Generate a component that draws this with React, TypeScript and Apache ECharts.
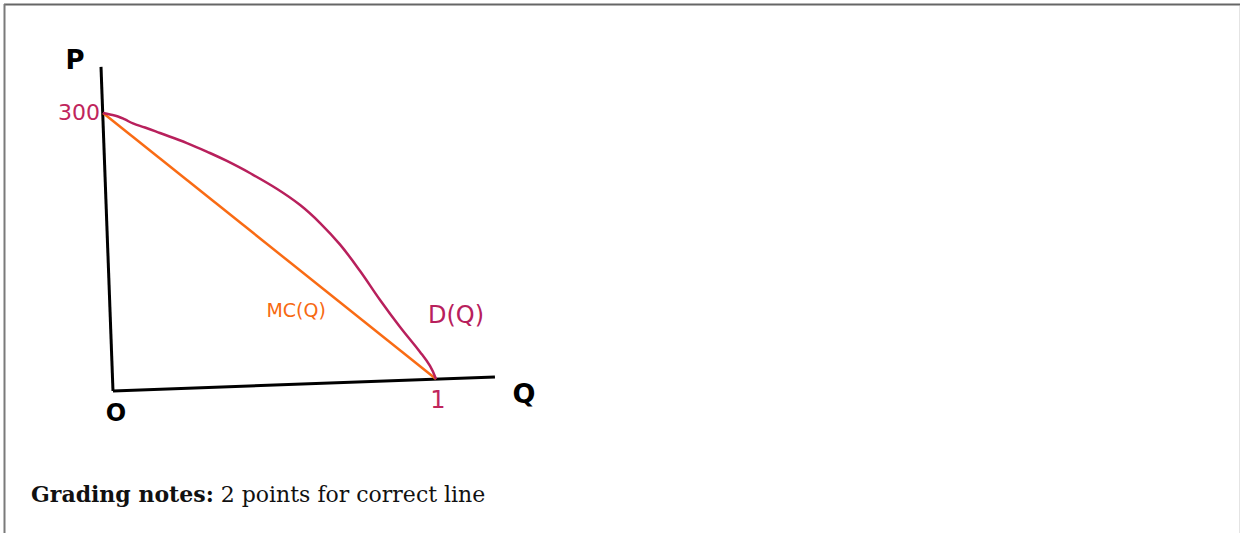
import React, { useEffect, useRef } from "react";
import * as echarts from "echarts";

// Quantity (Q) and price (P) coordinates of the sketched curves
const axisYLine: [number, number][] = [
  [-0.006, 352],
  [0.03, -13.5],
];
const axisXLine: [number, number][] = [
  [0.03, -13.5],
  [1.177, 2.3],
];
const mcLine: [number, number][] = [
  [0, 300],
  [1, 0],
];
const demandQ = [0, 0.021, 0.045, 0.066, 0.09, 0.126, 0.171, 0.252, 0.321, 0.372, 0.441, 0.523, 0.592, 0.652, 0.712, 0.772, 0.832, 0.892, 0.952, 0.982, 1];
const demandP = [300, 298.3, 296.1, 292.7, 288.2, 283.6, 277.4, 266.1, 254.9, 245.9, 232.3, 214.3, 196.2, 175.9, 151.5, 121.8, 89.1, 58.6, 30.5, 14.7, 0];

// Hand-lettered annotations placed in (Q, P) space
const annotations: { q: number; p: number; text: string; color: string; size: number; weight: string }[] = [
  { q: -0.084, p: 360, text: "P", color: "#000000", size: 26, weight: "bold" },
  { q: -0.072, p: 301, text: "300", color: "#c0255c", size: 22, weight: "normal" },
  { q: 0.58, p: 78, text: "MC(Q)", color: "#f76a12", size: 19, weight: "normal" },
  { q: 1.06, p: 72, text: "D(Q)", color: "#b8205c", size: 24, weight: "normal" },
  { q: 1.006, p: -24, text: "1", color: "#c0255c", size: 24, weight: "normal" },
  { q: 1.264, p: -16, text: "Q", color: "#000000", size: 27, weight: "bold" },
  { q: 0.039, p: -38, text: "O", color: "#000000", size: 24, weight: "bold" },
];

const noteBold = "Grading notes:";
const noteText = " 2 points for correct line";

export default function App() {
  const ref = useRef<HTMLDivElement>(null);

  useEffect(() => {
    if (!ref.current) return;
    const chart = echarts.init(ref.current, null, { renderer: "svg" });
    chart.setOption({
      animation: false,
      backgroundColor: "#ffffff",
      grid: { left: 19.75, width: 582.75, top: 24.33, height: 443.33 },
      xAxis: { type: "value", min: -0.25, max: 1.5, show: false },
      yAxis: { type: "value", min: -100, max: 400, show: false },
      series: [
        {
          type: "line",
          data: axisYLine,
          symbol: "none",
          clip: false,
          lineStyle: { color: "#000000", width: 3 },
        },
        {
          type: "line",
          data: axisXLine,
          symbol: "none",
          clip: false,
          lineStyle: { color: "#000000", width: 3 },
        },
        {
          type: "line",
          data: mcLine,
          symbol: "none",
          clip: false,
          lineStyle: { color: "#f96b14", width: 2.5 },
        },
        {
          type: "line",
          data: demandQ.map((q, i) => [q, demandP[i]]),
          symbol: "none",
          smooth: 0.4,
          clip: false,
          lineStyle: { color: "#b8205c", width: 2.5 },
        },
        {
          type: "scatter",
          symbolSize: 0,
          clip: false,
          itemStyle: { opacity: 1 },
          data: annotations.map((a) => ({
            value: [a.q, a.p],
            label: {
              show: true,
              position: "inside",
              formatter: a.text,
              color: a.color,
              opacity: 1,
              fontSize: a.size,
              fontWeight: a.weight,
              fontFamily: "DejaVu Sans",
            },
          })),
        },
      ],
      graphic: [
        {
          type: "line",
          shape: { x1: 4, y1: 4.5, x2: 1240, y2: 4.5 },
          style: { stroke: "#666666", lineWidth: 2 },
        },
        {
          type: "line",
          shape: { x1: 4.5, y1: 4, x2: 4.5, y2: 533 },
          style: { stroke: "#7a7a7a", lineWidth: 2 },
        },
        {
          type: "line",
          shape: { x1: 1239.5, y1: 6, x2: 1239.5, y2: 533 },
          style: { stroke: "#e4e4e4", lineWidth: 1 },
        },
        {
          type: "text",
          left: 31,
          top: 483,
          style: {
            text: "{b|" + noteBold + "}{r|" + noteText + "}",
            rich: {
              b: { fontFamily: "DejaVu Serif", fontSize: 22, fontWeight: "bold", fill: "#111111" },
              r: { fontFamily: "DejaVu Serif", fontSize: 22, fill: "#111111" },
            },
          },
        },
      ],
    });
    return () => chart.dispose();
  }, []);

  return (
    <div
      ref={ref}
      style={{ position: "absolute", left: 0, top: 0, width: 1240, height: 533 }}
    />
  );
}
